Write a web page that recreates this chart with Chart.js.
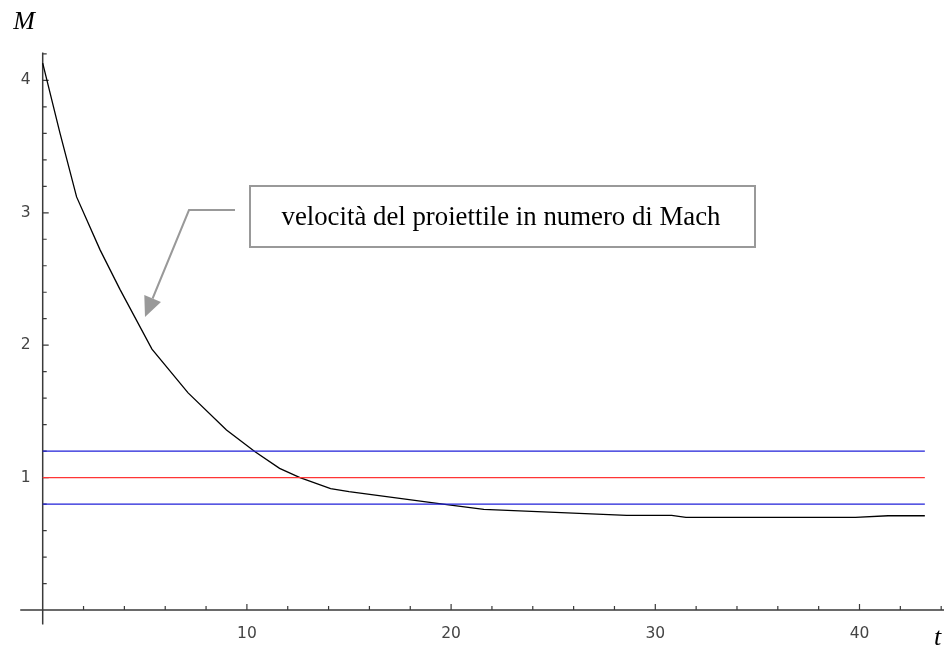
<!DOCTYPE html>
<html>
<head>
<meta charset="utf-8">
<script src="https://cdn.jsdelivr.net/npm/chart.js@4.4.0/dist/chart.umd.min.js"></script>
<style>
  html, body { margin: 0; padding: 0; background: #fff; }
  #wrap { width: 944px; height: 650px; }
</style>
</head>
<body>
<div id="wrap"><canvas id="machChart" width="944" height="650"></canvas></div>
<script>
  "use strict";

  // time (t) and Mach number (M)
  const tValues = [0, 0.85, 1.66, 2.81, 3.79, 5.35, 7.12, 9.0, 10.4, 11.6, 12.6, 14.1, 15.0, 19.6, 21.6, 28.6, 30.8, 31.5, 39.8, 41.4, 43.2];
  const machValues = [4.13, 3.6, 3.12, 2.72, 2.42, 1.97, 1.64, 1.36, 1.195, 1.07, 1.0, 0.917, 0.894, 0.8, 0.76, 0.714, 0.714, 0.7, 0.7, 0.712, 0.712];

  // reference levels
  const levelValues = [1.2, 1.0, 0.8];
  const levelColors = ["#2020d8", "#ff3535", "#2020d8"];
  const levelStart = 0;
  const levelEnd = 43.2;

  // ticks
  const xMajorTicks = [10, 20, 30, 40];
  const xMinorTicks = [2, 4, 6, 8, 12, 14, 16, 18, 22, 24, 26, 28, 32, 34, 36, 38, 42, 44];
  const yMajorTicks = [1, 2, 3, 4];
  const yMinorTicks = [0.2, 0.4, 0.6, 0.8, 1.2, 1.4, 1.6, 1.8, 2.2, 2.4, 2.6, 2.8, 3.2, 3.4, 3.6, 3.8, 4.2];

  const noteText = "velocità del proiettile in numero di Mach";

  const curveData = tValues.map((t, i) => ({ x: t, y: machValues[i] }));

  const levelDatasets = levelValues.map((v, i) => ({
    data: [{ x: levelStart, y: v }, { x: levelEnd, y: v }],
    borderColor: levelColors[i],
    borderWidth: 1.4,
    showLine: true,
    pointRadius: 0,
    tension: 0,
  }));

  /**
   * Axes through the origin, drawn from the chart scales
   */
  const axesPlugin = {
    id: "originAxes",
    beforeDatasetsDraw(chart) {
      const ctx = chart.ctx;
      const xs = chart.scales.x;
      const ys = chart.scales.y;
      const x0 = xs.getPixelForValue(0);
      const y0 = ys.getPixelForValue(0);

      ctx.save();
      ctx.strokeStyle = "#3a3a3a";
      ctx.lineWidth = 1.5;
      ctx.beginPath();
      ctx.moveTo(xs.getPixelForValue(-1.1), y0);
      ctx.lineTo(chart.width, y0);
      ctx.moveTo(x0, ys.getPixelForValue(-0.11));
      ctx.lineTo(x0, ys.getPixelForValue(4.21));
      ctx.stroke();

      ctx.lineWidth = 1.2;
      ctx.beginPath();
      xMajorTicks.forEach((v) => {
        const px = xs.getPixelForValue(v);
        ctx.moveTo(px, y0);
        ctx.lineTo(px, y0 - 6);
      });
      xMinorTicks.forEach((v) => {
        const px = xs.getPixelForValue(v);
        ctx.moveTo(px, y0);
        ctx.lineTo(px, y0 - 4);
      });
      yMajorTicks.forEach((v) => {
        const py = ys.getPixelForValue(v);
        ctx.moveTo(x0, py);
        ctx.lineTo(x0 + 6, py);
      });
      yMinorTicks.forEach((v) => {
        const py = ys.getPixelForValue(v);
        ctx.moveTo(x0, py);
        ctx.lineTo(x0 + 4, py);
      });
      ctx.stroke();

      ctx.fillStyle = "#444";
      ctx.font = "15.5px 'DejaVu Sans'";
      ctx.textAlign = "center";
      ctx.textBaseline = "middle";
      xMajorTicks.forEach((v) => {
        ctx.fillText(String(v), xs.getPixelForValue(v), y0 + 24);
      });
      ctx.textAlign = "right";
      yMajorTicks.forEach((v) => {
        ctx.fillText(String(v), x0 - 12, ys.getPixelForValue(v));
      });

      // axis names
      ctx.fillStyle = "#000";
      ctx.font = "italic 26px 'Liberation Serif'";
      ctx.textAlign = "center";
      ctx.textBaseline = "alphabetic";
      ctx.fillText("M", 24, 29);
      ctx.textAlign = "left";
      ctx.fillText("t", 934, 645);
      ctx.restore();
    },
    afterDatasetsDraw(chart) {
      const ctx = chart.ctx;
      ctx.save();

      // leader line with arrow
      const tip = { x: 145, y: 317 };
      const bend = { x: 189, y: 210 };
      ctx.strokeStyle = "#999";
      ctx.fillStyle = "#999";
      ctx.lineWidth = 2;
      ctx.beginPath();
      ctx.moveTo(235, 210);
      ctx.lineTo(bend.x, bend.y);
      const dx = tip.x - bend.x;
      const dy = tip.y - bend.y;
      const len = Math.hypot(dx, dy);
      const ux = dx / len;
      const uy = dy / len;
      const headLen = 20;
      const half = 9;
      const bx = tip.x - ux * headLen;
      const by = tip.y - uy * headLen;
      ctx.lineTo(bx, by);
      ctx.stroke();
      ctx.beginPath();
      ctx.moveTo(tip.x, tip.y);
      ctx.lineTo(bx - uy * half, by + ux * half);
      ctx.lineTo(bx + uy * half, by - ux * half);
      ctx.closePath();
      ctx.fill();

      // note box
      ctx.fillStyle = "#fff";
      ctx.fillRect(250, 186, 505, 61);
      ctx.strokeStyle = "#999";
      ctx.lineWidth = 2;
      ctx.strokeRect(250, 186, 505, 61);
      ctx.fillStyle = "#000";
      ctx.font = "26.8px 'Liberation Serif'";
      ctx.textAlign = "center";
      ctx.textBaseline = "alphabetic";
      ctx.fillText(noteText, 501, 225);
      ctx.restore();
    },
  };

  new Chart(document.getElementById("machChart"), {
    type: "scatter",
    data: {
      datasets: [
        ...levelDatasets,
        {
          data: curveData,
          borderColor: "#000",
          borderWidth: 1.3,
          showLine: true,
          pointRadius: 0,
          tension: 0,
        },
      ],
    },
    options: {
      responsive: false,
      animation: false,
      layout: { padding: 0 },
      plugins: {
        legend: { display: false },
        tooltip: { enabled: false },
      },
      scales: {
        x: { type: "linear", min: -2.091, max: 44.138, display: false },
        y: { type: "linear", min: -0.302, max: 4.607, display: false },
      },
    },
    plugins: [axesPlugin],
  });
</script>
</body>
</html>
